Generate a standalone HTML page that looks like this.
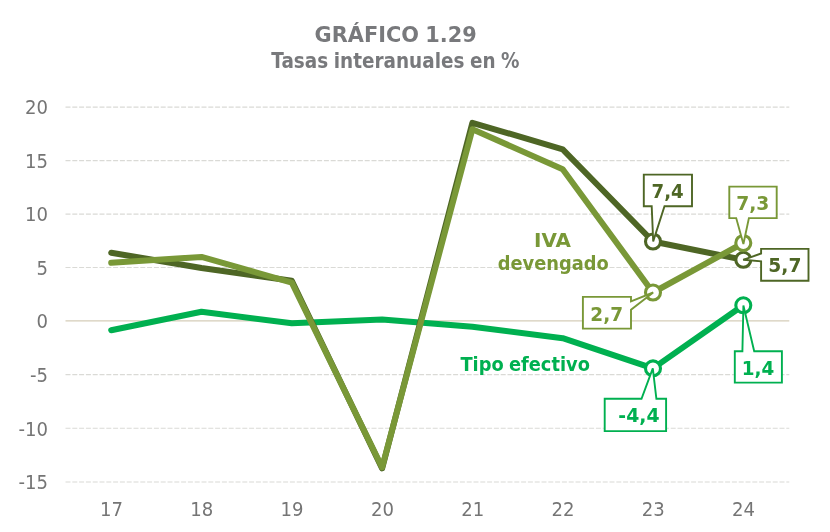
<!DOCTYPE html>
<html lang="es"><head><meta charset="utf-8"><title>GRÁFICO 1.29</title>
<style>
html,body{margin:0;padding:0;background:#fff;}
body{width:830px;height:532px;overflow:hidden;}
svg{display:block;}
text{font-family:"DejaVu Sans","Liberation Sans",sans-serif;}
.ax{font-size:19.4px;fill:#757575;}
.b{font-weight:bold;font-size:18.67px;word-spacing:-1px;}
</style></head><body>
<svg width="830" height="532" viewBox="0 0 830 532">
<rect width="830" height="532" fill="#ffffff"/>

<text class="b" x="314.58" y="42.2" style="font-size:22.0px" fill="#78797c" textLength="162.17" lengthAdjust="spacingAndGlyphs">GRÁFICO 1.29</text>
<text class="b" x="271.21" y="67.5" style="font-size:20.6px" fill="#78797c" textLength="248.31" lengthAdjust="spacingAndGlyphs">Tasas interanuales en %</text>
<line x1="65.5" x2="789.3" y1="107.1" y2="107.1" stroke="#dadad6" stroke-width="1.1" stroke-dasharray="5 1.8"/>
<line x1="65.5" x2="789.3" y1="160.6" y2="160.6" stroke="#dadad6" stroke-width="1.1" stroke-dasharray="5 1.8"/>
<line x1="65.5" x2="789.3" y1="214.1" y2="214.1" stroke="#dadad6" stroke-width="1.1" stroke-dasharray="5 1.8"/>
<line x1="65.5" x2="789.3" y1="267.5" y2="267.5" stroke="#dadad6" stroke-width="1.1" stroke-dasharray="5 1.8"/>
<line x1="65.5" x2="789.3" y1="374.6" y2="374.6" stroke="#dadad6" stroke-width="1.1" stroke-dasharray="5 1.8"/>
<line x1="65.5" x2="789.3" y1="428.3" y2="428.3" stroke="#dadad6" stroke-width="1.1" stroke-dasharray="5 1.8"/>
<line x1="65.5" x2="789.3" y1="482.0" y2="482.0" stroke="#dadad6" stroke-width="1.1" stroke-dasharray="5 1.8"/>
<line x1="65.5" x2="789.3" y1="320.9" y2="320.9" stroke="#d5cdb8" stroke-width="1.4"/>
<text class="ax" x="48.1" y="114.3" text-anchor="end" textLength="23.0" lengthAdjust="spacingAndGlyphs">20</text>
<text class="ax" x="48.1" y="167.8" text-anchor="end" textLength="23.0" lengthAdjust="spacingAndGlyphs">15</text>
<text class="ax" x="48.1" y="221.3" text-anchor="end" textLength="23.0" lengthAdjust="spacingAndGlyphs">10</text>
<text class="ax" x="48.1" y="274.7" text-anchor="end" textLength="11.5" lengthAdjust="spacingAndGlyphs">5</text>
<text class="ax" x="48.1" y="328.1" text-anchor="end" textLength="11.5" lengthAdjust="spacingAndGlyphs">0</text>
<text class="ax" x="48.1" y="381.8" text-anchor="end" textLength="18.0" lengthAdjust="spacingAndGlyphs">-5</text>
<text class="ax" x="48.1" y="435.5" text-anchor="end" textLength="29.5" lengthAdjust="spacingAndGlyphs">-10</text>
<text class="ax" x="48.1" y="489.2" text-anchor="end" textLength="29.5" lengthAdjust="spacingAndGlyphs">-15</text>
<text class="ax" x="111.5" y="515.5" text-anchor="middle" textLength="23" lengthAdjust="spacingAndGlyphs">17</text>
<text class="ax" x="201.8" y="515.5" text-anchor="middle" textLength="23" lengthAdjust="spacingAndGlyphs">18</text>
<text class="ax" x="292.1" y="515.5" text-anchor="middle" textLength="23" lengthAdjust="spacingAndGlyphs">19</text>
<text class="ax" x="382.4" y="515.5" text-anchor="middle" textLength="23" lengthAdjust="spacingAndGlyphs">20</text>
<text class="ax" x="472.7" y="515.5" text-anchor="middle" textLength="23" lengthAdjust="spacingAndGlyphs">21</text>
<text class="ax" x="563.0" y="515.5" text-anchor="middle" textLength="23" lengthAdjust="spacingAndGlyphs">22</text>
<text class="ax" x="653.3" y="515.5" text-anchor="middle" textLength="23" lengthAdjust="spacingAndGlyphs">23</text>
<text class="ax" x="743.6" y="515.5" text-anchor="middle" textLength="23" lengthAdjust="spacingAndGlyphs">24</text>
<polyline points="111.2,330.2 201.5,311.7 291.8,323.3 382.1,319.6 472.4,326.7 562.7,338.2 653.0,368.4 743.3,305.3" fill="none" stroke="#00b050" stroke-width="6" stroke-linecap="round" stroke-linejoin="round"/>
<polyline points="111.2,252.7 201.5,268.0 291.8,280.7 382.1,468.4 472.4,122.8 562.7,149.3 653.0,241.5 743.3,259.8" fill="none" stroke="#4e6625" stroke-width="6" stroke-linecap="round" stroke-linejoin="round"/>
<polyline points="111.2,262.7 201.5,256.9 291.8,282.6 382.1,467.4 472.4,129.2 562.7,169.2 653.0,292.5 743.3,243.0" fill="none" stroke="#799837" stroke-width="6" stroke-linecap="round" stroke-linejoin="round"/>
<circle cx="653.0" cy="368.4" r="7.5" fill="#fff" stroke="#00b050" stroke-width="3.1"/>
<circle cx="743.3" cy="305.3" r="7.5" fill="#fff" stroke="#00b050" stroke-width="3.1"/>
<circle cx="653.0" cy="241.5" r="7.5" fill="#fff" stroke="#4e6625" stroke-width="3.1"/>
<circle cx="743.3" cy="259.8" r="7.5" fill="#fff" stroke="#4e6625" stroke-width="3.1"/>
<circle cx="653.0" cy="292.5" r="7.5" fill="#fff" stroke="#799837" stroke-width="3.1"/>
<circle cx="743.3" cy="243.0" r="7.5" fill="#fff" stroke="#799837" stroke-width="3.1"/>
<text class="b" x="534.06" y="246.6" fill="#799837" textLength="36.89" lengthAdjust="spacingAndGlyphs">IVA</text>
<text class="b" x="497.76" y="269.7" fill="#799837" textLength="111.13" lengthAdjust="spacingAndGlyphs">devengado</text>
<text class="b" x="460.4" y="370.8" fill="#00b050" textLength="129.52" lengthAdjust="spacingAndGlyphs">Tipo efectivo</text>
<path d="M643.8 174.6H692V206.2H664.5L653.2 241.4L651.7 206.2H643.8Z" fill="#fff" stroke="#4e6625" stroke-width="1.9" stroke-linejoin="miter"/>
<text class="b" x="651.53" y="198.2" fill="#4e6625" textLength="32.13" lengthAdjust="spacingAndGlyphs">7,4</text>
<path d="M729.3 186.6H776.7V218.1H748.9L743.4 244L736.2 218.1H729.3Z" fill="#fff" stroke="#799837" stroke-width="1.9" stroke-linejoin="miter"/>
<text class="b" x="736.17" y="209.8" fill="#799837" textLength="33.16" lengthAdjust="spacingAndGlyphs">7,3</text>
<path d="M761.1 248.9H808.5V280.7H761.1V261.4L743.2 259.8L761.1 253.5Z" fill="#fff" stroke="#4e6625" stroke-width="1.9" stroke-linejoin="miter"/>
<text class="b" x="768.34" y="272.0" fill="#4e6625" textLength="33.16" lengthAdjust="spacingAndGlyphs">5,7</text>
<path d="M582.9 296.9H631V301.4L653.2 292.5L631 309.8V328.6H582.9Z" fill="#fff" stroke="#799837" stroke-width="1.9" stroke-linejoin="miter"/>
<text class="b" x="590.36" y="320.6" fill="#799837" textLength="32.74" lengthAdjust="spacingAndGlyphs">2,7</text>
<path d="M604.7 398.8H641.5L652.8 368.4L656.4 398.8H666.1V431.1H604.7Z" fill="#fff" stroke="#00b050" stroke-width="1.9" stroke-linejoin="miter"/>
<text class="b" x="618.36" y="422.3" fill="#00b050" textLength="41.12" lengthAdjust="spacingAndGlyphs">-4,4</text>
<path d="M734.8 351.2H742.4L743.4 305.5L754.2 351.2H781.9V382.6H734.8Z" fill="#fff" stroke="#00b050" stroke-width="1.9" stroke-linejoin="miter"/>
<text class="b" x="741.84" y="374.6" fill="#00b050" textLength="32.53" lengthAdjust="spacingAndGlyphs">1,4</text>
</svg></body></html>
